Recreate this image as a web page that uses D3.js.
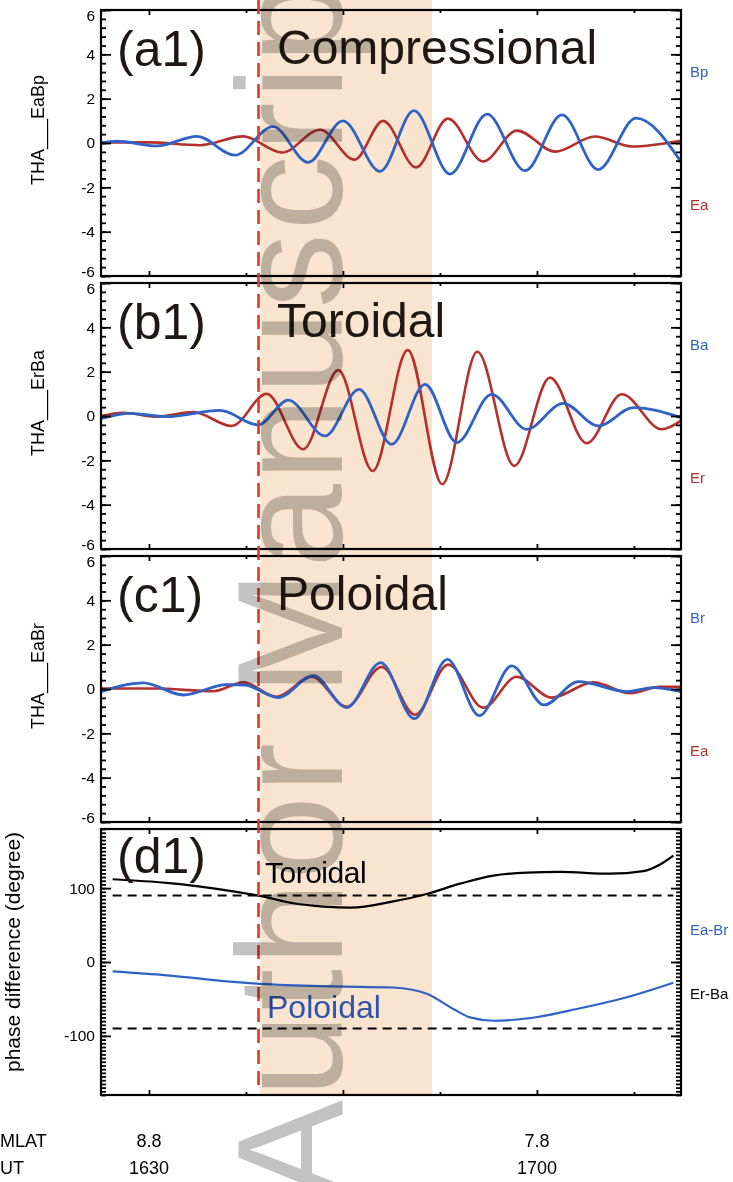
<!DOCTYPE html>
<html>
<head>
<meta charset="utf-8">
<script src="https://cdn.jsdelivr.net/npm/d3@7"></script>
<style>
body { margin: 0; background: #fff; }
svg { display: block; }
</style>
</head>
<body>
<script>
// Paramètres de la figure
const width = 733;
const height = 1182;
const left = 101;
const right = 681;
const panelTops = [10, 283, 556, 829];
const panelHeight = 266;
const font = '"Liberation Sans", Arial, Helvetica, sans-serif';
const red = '#b5302c';
const blue = '#2f62c4';
const ink = '#1f1714';

// Données : temps en minutes après 16:00 UT
const timeDomain = [26.29, 71.14];
const majorTimeTicks = [30, 45, 60];
const minorTimeTicks = [37.5, 52.5, 67.5];
const utTicks = [30, 60];
const utLabels = ['1630', '1700'];
const mlatLabels = ['8.8', '7.8'];
const fieldTicks = [-6, -4, -2, 0, 2, 4, 6];
const phaseTicks = [-100, 0, 100];
const phaseRefs = [90, -90];
const eventTime = 38.47;
const shadeTimes = [38.6, 51.89];

// (a1) compressionnel
const compEa = [[26.29,0.02],[30.0,0.03],[33.94,-0.1],[37.27,0.3],[40.29,-0.43],[43.23,0.6],[45.9,-0.75],[48.1,1.0],[50.65,-1.1],[53.12,1.1],[55.83,-0.83],[58.46,0.56],[61.4,-0.39],[64.49,0.29],[67.36,-0.16],[71.14,0.1]];
const compBp = [[26.29,0],[27.5,0.08],[30.62,-0.13],[33.71,0.3],[36.65,-0.55],[39.59,0.74],[42.3,-0.87],[45.0,1.0],[47.87,-1.28],[50.49,1.46],[53.28,-1.4],[56.14,1.3],[59.08,-1.25],[61.94,1.27],[64.73,-1.2],[67.66,1.12],[71.14,-0.85]];

// (b1) toroïdal
const torEr = [[26.29,0],[28.01,0.15],[30.6,-0.03],[33.43,0.18],[36.4,-0.45],[39.1,1.0],[41.93,-1.5],[44.64,2.07],[47.3,-2.48],[50.01,2.97],[52.68,-3.08],[55.39,2.9],[58.25,-2.25],[61.01,1.73],[63.85,-1.23],[66.56,0.98],[69.65,-0.6],[71.12,-0.22]];
const torBa = [[26.29,-0.12],[28.53,0.12],[31.37,-0.03],[35.49,0.25],[38.45,-0.4],[40.77,0.72],[43.61,-0.9],[46.24,1.2],[48.77,-1.28],[51.35,1.43],[53.8,-1.2],[56.5,0.98],[59.21,-0.6],[62.04,0.57],[64.75,-0.45],[67.46,0.38],[71.12,-0.07]];

// (c1) poloïdal
const polEa = [[26.29,0.02],[30.5,0.02],[34.97,-0.1],[37.29,0.3],[39.88,-0.35],[42.58,0.55],[45.29,-0.8],[48.0,1.0],[50.57,-1.16],[53.15,1.1],[55.85,-0.84],[58.44,0.55],[61.14,-0.39],[64.36,0.3],[67.2,-0.19],[69.52,0.1],[71.14,0.1]];
const polBr = [[26.29,-0.12],[29.56,0.28],[32.65,-0.27],[36.01,0.2],[37.42,0.18],[39.99,-0.39],[42.71,0.6],[45.29,-0.84],[47.92,1.19],[50.52,-1.34],[53.07,1.34],[55.55,-1.2],[58.05,1.04],[60.55,-0.72],[63.2,0.33],[66.95,-0.12],[68.98,0.06],[71.14,-0.12]];

// (d1) différence de phase (degrés)
const phaseErBa = [[27.19,112],[31.37,107],[36.52,95.5],[38.58,89.5],[41.16,79.5],[43.5,75],[45.6,73.5],[48.89,82],[51.48,92],[54.05,106],[56.63,117],[59.21,121],[61.79,122],[65.65,119.5],[68.23,123],[69.52,132],[70.55,144]];
const phaseEaBr = [[27.19,-12.7],[31.37,-18],[36.52,-27],[38.58,-29.5],[44.25,-33],[48.89,-34.5],[51.48,-43],[53.53,-63.6],[54.83,-75],[56.63,-79.5],[59.21,-76.5],[63.08,-63.6],[66.95,-47.7],[70.55,-28]];

const panels = [
  { tag: '(a1)', title: 'Compressional', ylab: 'THA___EaBp', domain: [-6, 6], ticks: fieldTicks, minor: 0.4,
    series: [[compEa, red, 2.6], [compBp, blue, 2.8]], names: [['Bp', blue, 3], ['Ea', red, -3]] },
  { tag: '(b1)', title: 'Toroidal', ylab: 'THA___ErBa', domain: [-6, 6], ticks: fieldTicks, minor: 0.4,
    series: [[torEr, red, 2.6], [torBa, blue, 2.8]], names: [['Ba', blue, 3], ['Er', red, -3]] },
  { tag: '(c1)', title: 'Poloidal', ylab: 'THA___EaBr', domain: [-6, 6], ticks: fieldTicks, minor: 0.4,
    series: [[polEa, red, 2.6], [polBr, blue, 2.8]], names: [['Br', blue, 3], ['Ea', red, -3]] },
  { tag: '(d1)', title: null, ylab: 'phase difference (degree)', domain: [-180, 180], ticks: phaseTicks, minor: 5,
    series: [[phaseErBa, '#000', 2.2], [phaseEaBr, blue, 2.2]], names: [['Ea-Br', blue, 36], ['Er-Ba', '#000', -50]] }
];

// Créer le SVG
const svg = d3.select('body')
  .append('svg')
  .attr('width', width)
  .attr('height', height)
  .style('font-family', font);

svg.append('rect').attr('width', width).attr('height', height).attr('fill', '#fff');

// Échelle horizontale (temps)
const x = d3.scaleLinear()
  .domain(timeDomain)
  .range([left, right]);

const bottom = panelTops[3] + panelHeight;

// Bande colorée
svg.append('rect')
  .attr('x', x(shadeTimes[0]))
  .attr('y', 0)
  .attr('width', x(shadeTimes[1]) - x(shadeTimes[0]))
  .attr('height', bottom)
  .attr('fill', '#f9e5cf');

const line = d3.line()
  .x(d => x(d[0]))
  .curve(d3.curveMonotoneX);

panels.forEach((p, i) => {
  const top = panelTops[i];
  const y = d3.scaleLinear()
    .domain(p.domain)
    .range([top + panelHeight, top]);
  const g = svg.append('g');

  // Lignes de référence ±90°
  if (i === 3) {
    g.selectAll('.ref')
      .data(phaseRefs)
      .enter()
      .append('line')
      .attr('x1', x(phaseErBa[0][0]))
      .attr('x2', x(phaseErBa[phaseErBa.length - 1][0]))
      .attr('y1', d => y(d))
      .attr('y2', d => y(d))
      .attr('stroke', '#000')
      .attr('stroke-width', 2)
      .attr('stroke-dasharray', '9,6');
  }

  // Courbes
  p.series.forEach(([data, color, w]) => {
    g.append('path')
      .datum(data)
      .attr('d', line.y(d => y(d[1])))
      .attr('fill', 'none')
      .attr('stroke', color)
      .attr('stroke-width', w)
      .attr('stroke-linejoin', 'round');
  });

  // Graduations verticales
  const minorVals = d3.range(p.domain[0], p.domain[1] + 1e-6, p.minor);
  const axes = [
    [d3.axisLeft(y).tickValues(p.ticks).tickSize(-10).tickPadding(6).tickFormat(d => String(d)), left],
    [d3.axisLeft(y).tickValues(minorVals).tickSize(-5).tickFormat(''), left],
    [d3.axisRight(y).tickValues(p.ticks).tickSize(-10).tickFormat(''), right],
    [d3.axisRight(y).tickValues(minorVals).tickSize(-5).tickFormat(''), right]
  ];
  axes.forEach(([ax, xpos]) => {
    g.append('g')
      .attr('transform', `translate(${xpos},0)`)
      .call(ax)
      .call(a => a.select('.domain').remove())
      .call(a => a.selectAll('.tick line').attr('stroke', '#000').attr('stroke-width', 1.8))
      .call(a => a.selectAll('.tick text')
        .attr('fill', '#000')
        .attr('dy', d => d === p.domain[0] ? '0em' : d === p.domain[1] ? '0.7em' : '0.32em')
        .style('font-size', '15.5px')
        .style('font-family', font));
  });

  // Graduations horizontales
  [[d3.axisTop(x), top], [d3.axisBottom(x), top + panelHeight]].forEach(([ax, ypos]) => {
    g.append('g')
      .attr('transform', `translate(0,${ypos})`)
      .call(ax.tickValues(majorTimeTicks).tickSize(-5).tickFormat(''))
      .call(a => a.select('.domain').remove())
      .call(a => a.selectAll('.tick line').attr('stroke', '#000').attr('stroke-width', 1.8));
    g.append('g')
      .attr('transform', `translate(0,${ypos})`)
      .call(ax.tickValues(minorTimeTicks).tickSize(-3).tickFormat(''))
      .call(a => a.select('.domain').remove())
      .call(a => a.selectAll('.tick line').attr('stroke', '#000').attr('stroke-width', 1.8));
  });

  // Cadre
  g.append('rect')
    .attr('x', left)
    .attr('y', top)
    .attr('width', right - left)
    .attr('height', panelHeight)
    .attr('fill', 'none')
    .attr('stroke', '#000')
    .attr('stroke-width', 2.2);

  // Titres du panneau
  g.append('text')
    .attr('x', 117)
    .attr('y', top + (i === 3 ? 44 : 56))
    .attr('fill', ink)
    .style('font-size', '50px')
    .text(p.tag);
  if (p.title) {
    g.append('text')
      .attr('x', 277)
      .attr('y', top + 54)
      .attr('fill', ink)
      .style('font-size', '48px')
      .text(p.title);
  }

  // Étiquette de l'axe vertical
  g.append('text')
    .attr('transform', `translate(${i === 3 ? 20 : 44},${top + panelHeight / 2 - (i === 3 ? 10 : 13)}) rotate(-90)`)
    .attr('text-anchor', 'middle')
    .attr('fill', '#000')
    .style('font-size', i === 3 ? '21px' : '18px')
    .text(p.ylab);

  // Noms des composantes à droite
  g.selectAll('.name')
    .data(p.names)
    .enter()
    .append('text')
    .attr('x', 690)
    .attr('y', d => y(d[2]))
    .attr('fill', d => d[1])
    .style('font-size', '15px')
    .text(d => d[0]);

  if (i === 3) {
    g.append('text')
      .attr('x', 265)
      .attr('y', top + 54)
      .attr('fill', '#000')
      .style('font-size', '30px')
      .style('letter-spacing', '-0.5px')
      .text('Toroidal');
    g.append('text')
      .attr('x', 267)
      .attr('y', top + 189)
      .attr('fill', '#2e52ad')
      .style('font-size', '32px')
      .text('Poloidal');
  }
});

// Ligne verticale de l'événement
svg.append('line')
  .attr('x1', x(eventTime))
  .attr('x2', x(eventTime))
  .attr('y1', 0)
  .attr('y2', bottom - 4)
  .attr('stroke', '#e0372c')
  .attr('stroke-width', 2.6)
  .attr('stroke-dasharray', '14,7');

// Étiquettes MLAT / UT
const labelsRow = [['MLAT', mlatLabels, 1147], ['UT', utLabels, 1174]];
labelsRow.forEach(([name, labels, ypos]) => {
  svg.append('text')
    .attr('x', 0)
    .attr('y', ypos)
    .attr('fill', '#000')
    .style('font-size', '18px')
    .text(name);
  svg.selectAll(null)
    .data(labels)
    .enter()
    .append('text')
    .attr('x', (d, k) => x(utTicks[k]))
    .attr('y', ypos)
    .attr('text-anchor', 'middle')
    .attr('fill', '#000')
    .style('font-size', '18px')
    .text(d => d);
});

// Filigrane
svg.append('text')
  .attr('transform', 'translate(342,1200) rotate(-90)')
  .attr('fill', '#c2c2c2')
  .style('mix-blend-mode', 'multiply')
  .style('letter-spacing', '3px')
  .style('font-size', '150px')
  .text('Author Manuscript');
</script>
</body>
</html>
